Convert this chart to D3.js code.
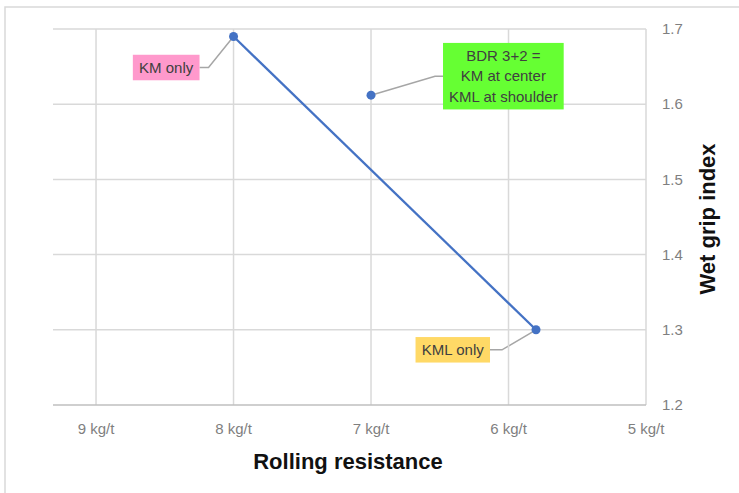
<!DOCTYPE html>
<html>
<head>
<meta charset="utf-8">
<script src="https://cdn.jsdelivr.net/npm/d3@7"></script>
<style>
  body { margin: 0; background: #fff; }
  svg text { font-family: "Liberation Sans", Arial, sans-serif; }
  .tick-label { fill: #7f7f7f; font-size: 15px; }
  .axis-title { fill: #111; font-size: 22px; font-weight: bold; }
  .note { fill: #404040; font-size: 15px; }
</style>
</head>
<body>
<div id="chart"></div>
<script>
/* Wet grip vs rolling resistance (x axis reversed: lower RR to the right). */

// ticks
const X_TICKS = [9, 8, 7, 6, 5];          // kg/t
const Y_TICKS = [1.2, 1.3, 1.4, 1.5, 1.6, 1.7];

// line series: single-compound treads
const LINE_RR  = [8.0, 5.8];
const LINE_WGI = [1.69, 1.30];

// separate point: combined tread
const BDR_RR  = [7.0];
const BDR_WGI = [1.612];

// callouts (text only)
const NOTE_TEXT = [["KM only"], ["BDR 3+2 =", "KM at center", "KML at shoulder"], ["KML only"]];
const NOTE_AT   = [[8.0, 1.69], [7.0, 1.612], [5.8, 1.30]];

// layout
const W = 739, H = 493;
const PLOT = { left: 53, right: 646, top: 29, bottom: 405 };
// per callout: box side relative to point, dx of box edge, dy of box centre, leader elbow dx
const NOTE_STYLE = [
  { fill: "#ff99cc", side: "left",  dx: -34, dy: 31,  elbow: 9 },
  { fill: "#66ff33", side: "right", dx: 72,  dy: -19, elbow: 8 },
  { fill: "#ffd966", side: "left",  dx: -46, dy: 20,  elbow: 12 }
];

const svg = d3.select("#chart").append("svg")
    .attr("width", W).attr("height", H);

// outer chart border (only top/left visible in the crop)
svg.append("path").attr("d", `M5,${H} V7 H${W}`)
    .attr("fill", "none").attr("stroke", "#d9d9d9").attr("stroke-width", 1.5);

// SCALES
const x = d3.scaleLinear().domain([9.313, 5]).range([PLOT.left, PLOT.right]);
const y = d3.scaleLinear().domain([1.2, 1.7]).range([PLOT.bottom, PLOT.top]);

// GRID
svg.append("g").selectAll("line").data(Y_TICKS.slice(1)).join("line")
    .attr("x1", PLOT.left).attr("x2", PLOT.right)
    .attr("y1", d => y(d)).attr("y2", d => y(d))
    .attr("stroke", "#d9d9d9").attr("stroke-width", 1.5);
svg.append("g").selectAll("line").data(X_TICKS).join("line")
    .attr("x1", d => x(d)).attr("x2", d => x(d))
    .attr("y1", PLOT.top).attr("y2", PLOT.bottom)
    .attr("stroke", "#d9d9d9").attr("stroke-width", 1.5);
// base axis line
svg.append("line")
    .attr("x1", PLOT.left).attr("x2", PLOT.right)
    .attr("y1", y(1.2)).attr("y2", y(1.2))
    .attr("stroke", "#bfbfbf").attr("stroke-width", 1.5);

// TICK LABELS
svg.append("g").selectAll("text").data(X_TICKS).join("text")
    .attr("class", "tick-label")
    .attr("x", d => x(d)).attr("y", PLOT.bottom + 29)
    .attr("text-anchor", "middle")
    .text(d => `${d} kg/t`);
svg.append("g").selectAll("text").data(Y_TICKS).join("text")
    .attr("class", "tick-label")
    .attr("x", PLOT.right + 16).attr("y", d => y(d))
    .attr("dy", "0.35em")
    .text(d => d3.format(".1f")(d));

// AXIS TITLES
svg.append("text").attr("class", "axis-title")
    .attr("x", 348).attr("y", 469).attr("text-anchor", "middle")
    .text("Rolling resistance");
svg.append("text").attr("class", "axis-title")
    .attr("transform", "translate(715,219) rotate(-90)")
    .attr("text-anchor", "middle")
    .text("Wet grip index");

// LINE SERIES
const linePts = LINE_RR.map((r, i) => [r, LINE_WGI[i]]);
svg.append("path").datum(linePts)
    .attr("fill", "none").attr("stroke", "#4472c4").attr("stroke-width", 2.25)
    .attr("d", d3.line().x(d => x(d[0])).y(d => y(d[1])));

// CALLOUTS (leaders + boxes), drawn under markers
NOTE_TEXT.forEach((lines, i) => {
  const st = NOTE_STYLE[i];
  const px = x(NOTE_AT[i][0]), py = y(NOTE_AT[i][1]);
  const g = svg.append("g");
  const lineH = 20.5;
  const t = g.append("text").attr("class", "note").attr("text-anchor", "middle");
  lines.forEach((s, k) => t.append("tspan").attr("x", 0)
      .attr("y", (k - (lines.length - 1) / 2) * lineH).attr("dy", "0.35em").text(s));
  const bb = t.node().getBBox();
  const bw = bb.width + 12, bh = lines.length * lineH + 5;
  const edge = px + st.dx, cy = py + st.dy;
  const cx = st.side === "left" ? edge - bw / 2 : edge + bw / 2;
  const elbowX = st.side === "left" ? edge + st.elbow : edge - st.elbow;
  svg.insert("path", "g")
      .attr("d", `M${px},${py} L${elbowX},${cy} L${edge},${cy}`)
      .attr("fill", "none").attr("stroke", "#a6a6a6").attr("stroke-width", 1.5);
  g.insert("rect", "text")
      .attr("x", -bw / 2).attr("y", -bh / 2).attr("width", bw).attr("height", bh)
      .attr("fill", st.fill);
  g.attr("transform", `translate(${cx},${cy})`);
});

// MARKERS
svg.append("g").selectAll("circle").data(linePts).join("circle")
    .attr("cx", d => x(d[0])).attr("cy", d => y(d[1])).attr("r", 4.5)
    .attr("fill", "#4472c4");
svg.append("g").selectAll("circle").data(BDR_RR.map((r, i) => [r, BDR_WGI[i]])).join("circle")
    .attr("cx", d => x(d[0])).attr("cy", d => y(d[1])).attr("r", 4.5)
    .attr("fill", "#4472c4");
</script>
</body>
</html>
